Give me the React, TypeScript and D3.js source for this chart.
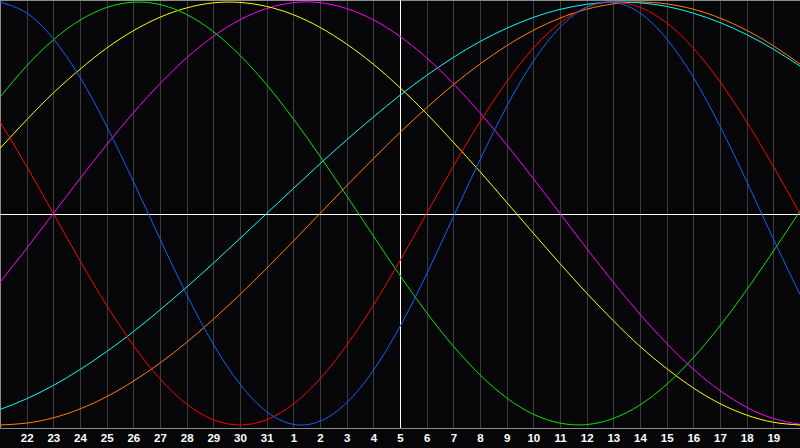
import React from 'react';
import * as d3 from 'd3';

// day labels for each column (index 0..30)
const days = [21, 22, 23, 24, 25, 26, 27, 28, 29, 30, 31, 1, 2, 3, 4, 5, 6, 7, 8, 9, 10, 11, 12, 13, 14, 15, 16, 17, 18, 19, 20];

// cycle values, one per day
const physical = [0.999, 0.948, 0.826, 0.644, 0.413, 0.152, -0.12, -0.383, -0.618, -0.807, -0.937, -0.997, -0.982, -0.895, -0.742, -0.534, -0.286, -0.016, 0.254, 0.506, 0.72, 0.88, 0.976, 0.999, 0.948, 0.826, 0.644, 0.413, 0.152, -0.12, -0.383];
const emotional = [0.434, 0.223, 0.0, -0.223, -0.434, -0.623, -0.782, -0.901, -0.975, -1.0, -0.975, -0.901, -0.782, -0.623, -0.434, -0.223, 0.0, 0.223, 0.434, 0.623, 0.782, 0.901, 0.975, 1.0, 0.975, 0.901, 0.782, 0.623, 0.434, 0.223, 0.0];
const intellectual = [0.55, 0.698, 0.821, 0.914, 0.974, 0.999, 0.988, 0.941, 0.86, 0.748, 0.609, 0.448, 0.271, 0.084, -0.106, -0.293, -0.469, -0.627, -0.763, -0.872, -0.949, -0.991, -0.998, -0.969, -0.905, -0.808, -0.682, -0.531, -0.361, -0.178, 0.011];
const aesthetic = [0.308, 0.443, 0.57, 0.682, 0.782, 0.864, 0.928, 0.972, 0.996, 0.998, 0.979, 0.94, 0.88, 0.801, 0.706, 0.595, 0.472, 0.337, 0.198, 0.053, -0.093, -0.237, -0.376, -0.507, -0.628, -0.733, -0.825, -0.899, -0.953, -0.987, -1.0];
const intuitive = [-0.325, -0.165, 0.0, 0.165, 0.325, 0.476, 0.614, 0.736, 0.837, 0.916, 0.969, 0.997, 0.997, 0.969, 0.916, 0.837, 0.736, 0.614, 0.476, 0.325, 0.165, 0.0, -0.165, -0.325, -0.476, -0.614, -0.736, -0.837, -0.916, -0.969, -0.997];
const spiritual = [-0.927, -0.876, -0.813, -0.738, -0.653, -0.559, -0.456, -0.348, -0.235, -0.118, 0.0, 0.118, 0.235, 0.348, 0.456, 0.559, 0.653, 0.738, 0.813, 0.876, 0.927, 0.965, 0.989, 1.0, 0.996, 0.979, 0.947, 0.903, 0.846, 0.777, 0.697];
const awareness = [-1.0, -0.991, -0.966, -0.924, -0.866, -0.793, -0.707, -0.609, -0.5, -0.383, -0.259, -0.131, 0.0, 0.131, 0.259, 0.383, 0.5, 0.609, 0.707, 0.793, 0.866, 0.924, 0.966, 0.991, 1.0, 0.991, 0.966, 0.924, 0.866, 0.793, 0.707];

const series = [
  { name: 'awareness', values: awareness, color: '#ff8000' },
  { name: 'spiritual', values: spiritual, color: '#00ffff' },
  { name: 'intuitive', values: intuitive, color: '#ff00ff' },
  { name: 'aesthetic', values: aesthetic, color: '#ffff00' },
  { name: 'intellectual', values: intellectual, color: '#00e600' },
  { name: 'emotional', values: emotional, color: '#ff0000' },
  { name: 'physical', values: physical, color: '#0a64ff' },
];

export default function App() {
  const width = 800;
  const height = 448;
  const axisY = 428;

  const x = d3.scaleLinear().domain([0, days.length - 1]).range([0, width]);
  const y = d3.scaleLinear().domain([-1, 1]).range([425, 2]);

  const line = d3.line<number>()
    .x((_, i) => x(i))
    .y(d => y(d))
    .curve(d3.curveNatural);

  const ticks = d3.range(1, days.length - 1);
  const midIndex = Math.floor((days.length - 1) / 2);
  const zeroY = Math.round(y(0)) + 0.5;

  return (
    <svg
      width={width}
      height={height}
      style={{ position: 'absolute', left: 0, top: 0, background: '#060608' }}
    >
      <rect x={0} y={0} width={width} height={height} fill="#060608" />

      {/* вертикальная сетка по дням */}
      {ticks.map(i => (
        <line
          key={'g' + i}
          x1={Math.round(x(i)) + 0.5}
          x2={Math.round(x(i)) + 0.5}
          y1={0}
          y2={axisY}
          stroke="#3c3c3c"
          shapeRendering="crispEdges"
        />
      ))}

      {/* рамка */}
      <line x1={0.5} x2={0.5} y1={0} y2={axisY} stroke="#8c8c8c" shapeRendering="crispEdges" />
      <line x1={0} x2={width} y1={0.5} y2={0.5} stroke="#8c8c8c" shapeRendering="crispEdges" />
      <line x1={0} x2={width} y1={axisY + 0.5} y2={axisY + 0.5} stroke="#8c8c8c" shapeRendering="crispEdges" />

      {/* центральные линии */}
      <line x1={0} x2={width} y1={zeroY} y2={zeroY} stroke="#ffffff" shapeRendering="crispEdges" />
      <line
        x1={Math.round(x(midIndex)) + 0.5}
        x2={Math.round(x(midIndex)) + 0.5}
        y1={0}
        y2={axisY}
        stroke="#ffffff"
        shapeRendering="crispEdges"
      />

      {series.map(s => (
        <path key={s.name} d={line(s.values) || ''} fill="none" stroke={s.color} strokeWidth={1} />
      ))}

      {ticks.map(i => (
        <text
          key={'t' + i}
          x={x(i) + 0.5}
          y={442}
          textAnchor="middle"
          fill="#ffffff"
          fontFamily="'Liberation Sans', Arial, sans-serif"
          fontWeight="bold"
          fontSize={11.5}
        >
          {days[i]}
        </text>
      ))}
    </svg>
  );
}
